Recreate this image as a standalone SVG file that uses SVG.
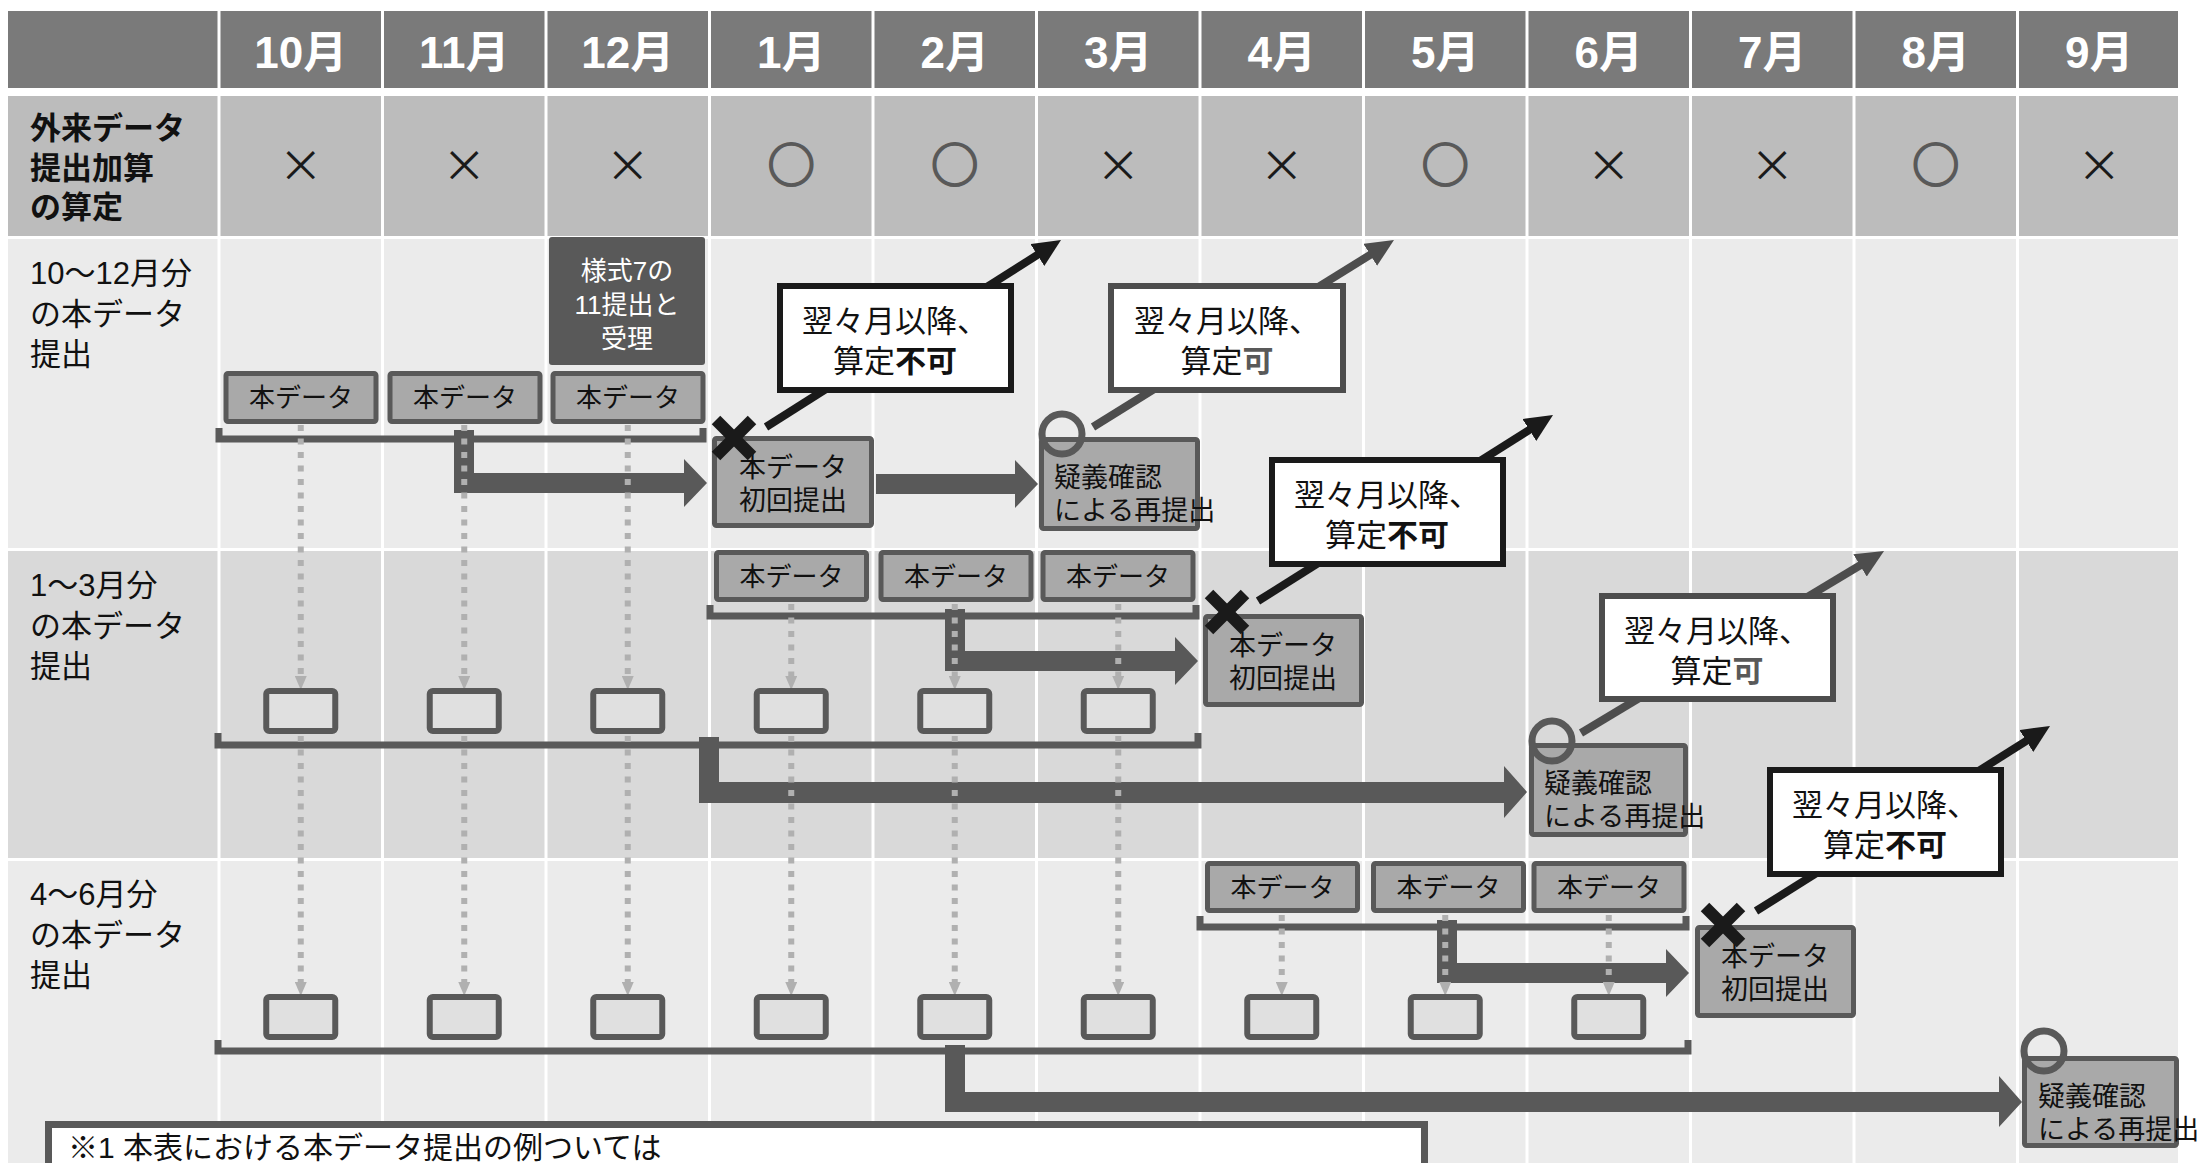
<svg xmlns="http://www.w3.org/2000/svg" width="2197" height="1163" viewBox="0 0 2197 1163">
<defs>
<style>
text{font-family:'Liberation Sans','Noto Sans CJK JP',sans-serif}
.hdr{fill:#7a7a7a}
.r2{fill:#bcbcbc}
.ht{font-size:44px;font-weight:bold;fill:#fff;text-anchor:middle}
.lbl{font-size:31px;fill:#111}
.lblb{font-size:31px;fill:#111;font-weight:bold}
.mk{font-size:44px;fill:#1a1a1a;text-anchor:middle;font-family:'Noto Sans CJK JP',sans-serif}
.mo{font-size:47px;fill:#595959;stroke:#595959;stroke-width:2.2;text-anchor:middle;font-family:'Noto Sans CJK JP',sans-serif}
.vl{fill:#fff}
.box{fill:#a9a9a9;stroke:#595959;stroke-width:5}
.sbox{fill:#e0e0e0;stroke:#595959;stroke-width:6}
.bt{font-size:26px;fill:#111;text-anchor:middle}
.wt{font-size:26px;fill:#fff;text-anchor:middle}
.bt2{font-size:27px;fill:#111;text-anchor:middle}
.qt{font-size:27px;fill:#111}
.callF{fill:#fff;stroke:#1a1a1a;stroke-width:6}
.callK{fill:#fff;stroke:#4d4d4d;stroke-width:6}
.ct{font-size:31px;fill:#111;text-anchor:middle}
.dash{stroke:#b0b0b0;stroke-width:6;stroke-dasharray:6 7.5;fill:none}
.brk{stroke:#595959;stroke-width:7;fill:none}
.thick{fill:#595959}
.lnF{stroke:#1a1a1a;stroke-width:8;fill:none}
.lnK{stroke:#4d4d4d;stroke-width:8;fill:none}
.xm{stroke:#1a1a1a;stroke-width:12}
.ok{fill:none;stroke:#595959;stroke-width:7}
</style>
<marker id="ga" viewBox="0 0 14 12" refX="0" refY="6" markerWidth="14" markerHeight="12" markerUnits="userSpaceOnUse" orient="auto"><path d="M0,0 L14,6 L0,12 Z" fill="#b0b0b0"/></marker>
<marker id="fa" viewBox="0 0 28 26" refX="8" refY="13" markerWidth="28" markerHeight="26" markerUnits="userSpaceOnUse" orient="auto"><path d="M0,0 L28,13 L0,26 Z" fill="#1a1a1a"/></marker>
<marker id="ka" viewBox="0 0 28 26" refX="8" refY="13" markerWidth="28" markerHeight="26" markerUnits="userSpaceOnUse" orient="auto"><path d="M0,0 L28,13 L0,26 Z" fill="#4d4d4d"/></marker>
</defs>
<rect width="2197" height="1163" fill="#fff"/>

<g id="table">
<rect class="hdr" x="8" y="11" width="209.5" height="77"/>
<rect class="hdr" x="220.5" y="11" width="160.5" height="77"/>
<rect class="hdr" x="384" y="11" width="160.5" height="77"/>
<rect class="hdr" x="547.5" y="11" width="160.5" height="77"/>
<rect class="hdr" x="711" y="11" width="160.5" height="77"/>
<rect class="hdr" x="874.5" y="11" width="160.5" height="77"/>
<rect class="hdr" x="1038" y="11" width="160.5" height="77"/>
<rect class="hdr" x="1201.5" y="11" width="160.5" height="77"/>
<rect class="hdr" x="1365" y="11" width="160.5" height="77"/>
<rect class="hdr" x="1528.5" y="11" width="160.5" height="77"/>
<rect class="hdr" x="1692" y="11" width="160.5" height="77"/>
<rect class="hdr" x="1855.5" y="11" width="160.5" height="77"/>
<rect class="hdr" x="2019" y="11" width="159" height="77"/>
<text class="ht" x="300.75" y="68">10月</text>
<text class="ht" x="464.25" y="68">11月</text>
<text class="ht" x="627.75" y="68">12月</text>
<text class="ht" x="791.25" y="68">1月</text>
<text class="ht" x="954.75" y="68">2月</text>
<text class="ht" x="1118.25" y="68">3月</text>
<text class="ht" x="1281.75" y="68">4月</text>
<text class="ht" x="1445.25" y="68">5月</text>
<text class="ht" x="1608.75" y="68">6月</text>
<text class="ht" x="1772.25" y="68">7月</text>
<text class="ht" x="1935.75" y="68">8月</text>
<text class="ht" x="2099.25" y="68">9月</text>

<rect class="r2" x="8" y="96" width="209.5" height="140"/>
<rect class="r2" x="220.5" y="96" width="160.5" height="140"/>
<rect class="r2" x="384" y="96" width="160.5" height="140"/>
<rect class="r2" x="547.5" y="96" width="160.5" height="140"/>
<rect class="r2" x="711" y="96" width="160.5" height="140"/>
<rect class="r2" x="874.5" y="96" width="160.5" height="140"/>
<rect class="r2" x="1038" y="96" width="160.5" height="140"/>
<rect class="r2" x="1201.5" y="96" width="160.5" height="140"/>
<rect class="r2" x="1365" y="96" width="160.5" height="140"/>
<rect class="r2" x="1528.5" y="96" width="160.5" height="140"/>
<rect class="r2" x="1692" y="96" width="160.5" height="140"/>
<rect class="r2" x="1855.5" y="96" width="160.5" height="140"/>
<rect class="r2" x="2019" y="96" width="159" height="140"/>
<text class="lblb"><tspan x="30" y="139">外来データ</tspan><tspan x="30" y="179">提出加算</tspan><tspan x="30" y="218">の算定</tspan></text>
<text class="mk" x="300.75" y="182">×</text>
<text class="mk" x="464.25" y="182">×</text>
<text class="mk" x="627.75" y="182">×</text>
<text class="mo" x="791.25" y="182">○</text>
<text class="mo" x="954.75" y="182">○</text>
<text class="mk" x="1118.25" y="182">×</text>
<text class="mk" x="1281.75" y="182">×</text>
<text class="mo" x="1445.25" y="182">○</text>
<text class="mk" x="1608.75" y="182">×</text>
<text class="mk" x="1772.25" y="182">×</text>
<text class="mo" x="1935.75" y="182">○</text>
<text class="mk" x="2099.25" y="182">×</text>

<rect x="8" y="239" width="2170" height="309" fill="#ebebeb"/>
<rect x="8" y="551" width="2170" height="307" fill="#d9d9d9"/>
<rect x="8" y="861" width="2170" height="302" fill="#ebebeb"/>
<rect class="vl" x="217.5" y="239" width="3" height="924"/>
<rect class="vl" x="381" y="239" width="3" height="924"/>
<rect class="vl" x="544.5" y="239" width="3" height="924"/>
<rect class="vl" x="708" y="239" width="3" height="924"/>
<rect class="vl" x="871.5" y="239" width="3" height="924"/>
<rect class="vl" x="1035" y="239" width="3" height="924"/>
<rect class="vl" x="1198.5" y="239" width="3" height="924"/>
<rect class="vl" x="1362" y="239" width="3" height="924"/>
<rect class="vl" x="1525.5" y="239" width="3" height="924"/>
<rect class="vl" x="1689" y="239" width="3" height="924"/>
<rect class="vl" x="1852.5" y="239" width="3" height="924"/>
<rect class="vl" x="2016" y="239" width="3" height="924"/>
<text class="lbl"><tspan x="30" y="284">10～12月分</tspan><tspan x="30" y="325">の本データ</tspan><tspan x="30" y="365">提出</tspan></text>
<text class="lbl"><tspan x="30" y="596">1～3月分</tspan><tspan x="30" y="637">の本データ</tspan><tspan x="30" y="677">提出</tspan></text>
<text class="lbl"><tspan x="30" y="905">4～6月分</tspan><tspan x="30" y="946">の本データ</tspan><tspan x="30" y="986">提出</tspan></text>
</g>

<g id="connectors">
<path class="brk" d="M219,428 V439 H703 V428"/>
<path class="brk" d="M710,605 V616 H1196 V605"/>
<path class="brk" d="M218,733 V745 H1198 V733"/>
<path class="brk" d="M1200,916 V927 H1686 V916"/>
<path class="brk" d="M218,1040 V1051 H1688 V1040"/>
<path class="thick" d="M454,430 H474 V473 H684 V459 L707,483 L684,507 V493 H454 Z"/>
<path class="thick" d="M876,474 H1015 V460 L1038,484 L1015,508 V494 H876 Z"/>
<path class="thick" d="M945,609 H965 V651 H1175 V637 L1198,661 L1175,685 V671 H945 Z"/>
<path class="thick" d="M699,737 H719 V782 H1504 V766 L1527,792 L1504,818 V803 H699 Z"/>
<path class="thick" d="M1437,920 H1457 V963 H1666 V949 L1689,973 L1666,997 V983 H1437 Z"/>
<path class="thick" d="M945,1045 H965 V1092 H1999 V1076 L2022,1102 L1999,1127 V1112 H945 Z"/>
<line class="dash" x1="300.75" y1="425" x2="300.75" y2="676" marker-end="url(#ga)"/>
<line class="dash" x1="464.25" y1="425" x2="464.25" y2="676" marker-end="url(#ga)"/>
<line class="dash" x1="627.75" y1="425" x2="627.75" y2="676" marker-end="url(#ga)"/>
<line class="dash" x1="791.25" y1="604" x2="791.25" y2="676" marker-end="url(#ga)"/>
<line class="dash" x1="954.75" y1="604" x2="954.75" y2="676" marker-end="url(#ga)"/>
<line class="dash" x1="1118.25" y1="604" x2="1118.25" y2="676" marker-end="url(#ga)"/>
<line class="dash" x1="300.75" y1="736" x2="300.75" y2="982" marker-end="url(#ga)"/>
<line class="dash" x1="464.25" y1="736" x2="464.25" y2="982" marker-end="url(#ga)"/>
<line class="dash" x1="627.75" y1="736" x2="627.75" y2="982" marker-end="url(#ga)"/>
<line class="dash" x1="791.25" y1="736" x2="791.25" y2="982" marker-end="url(#ga)"/>
<line class="dash" x1="954.75" y1="736" x2="954.75" y2="982" marker-end="url(#ga)"/>
<line class="dash" x1="1118.25" y1="736" x2="1118.25" y2="982" marker-end="url(#ga)"/>
<line class="dash" x1="1281.75" y1="915" x2="1281.75" y2="982" marker-end="url(#ga)"/>
<line class="dash" x1="1445.25" y1="915" x2="1445.25" y2="982" marker-end="url(#ga)"/>
<line class="dash" x1="1608.75" y1="915" x2="1608.75" y2="982" marker-end="url(#ga)"/>
<line class="lnF" x1="766" y1="427" x2="1044.1" y2="250.7" marker-end="url(#fa)"/>
<line class="lnK" x1="1093" y1="427" x2="1377" y2="250.6" marker-end="url(#ka)"/>
<line class="lnF" x1="1258" y1="601" x2="1536.1" y2="425.7" marker-end="url(#fa)"/>
<line class="lnK" x1="1581" y1="733" x2="1866.9" y2="561.3" marker-end="url(#ka)"/>
<line class="lnF" x1="1756" y1="911" x2="2033.1" y2="736.7" marker-end="url(#fa)"/>
</g>

<g id="youshiki7">
<rect x="549" y="237" width="156" height="128" rx="3" fill="#595959"/>
<text class="wt"><tspan x="627" y="280">様式7の</tspan><tspan x="627" y="314">11提出と</tspan><tspan x="627" y="348">受理</tspan></text>
</g>

<g id="data-r3-10"><rect class="box" x="226" y="373.5" width="150" height="48" rx="2"/><text class="bt" x="301" y="407">本データ</text></g>
<g id="data-r3-11"><rect class="box" x="390" y="373.5" width="150" height="48" rx="2"/><text class="bt" x="465" y="407">本データ</text></g>
<g id="data-r3-12"><rect class="box" x="553" y="373.5" width="150" height="48" rx="2"/><text class="bt" x="628" y="407">本データ</text></g>
<g id="data-r4-1"><rect class="box" x="716.5" y="552.5" width="150" height="47" rx="2"/><text class="bt" x="791.5" y="586">本データ</text></g>
<g id="data-r4-2"><rect class="box" x="881" y="552.5" width="150" height="47" rx="2"/><text class="bt" x="956" y="586">本データ</text></g>
<g id="data-r4-3"><rect class="box" x="1043" y="552.5" width="150" height="47" rx="2"/><text class="bt" x="1118" y="586">本データ</text></g>
<g id="data-r5-4"><rect class="box" x="1207.5" y="863.5" width="150" height="47" rx="2"/><text class="bt" x="1282.5" y="897">本データ</text></g>
<g id="data-r5-5"><rect class="box" x="1373.5" y="863.5" width="150" height="47" rx="2"/><text class="bt" x="1448.5" y="897">本データ</text></g>
<g id="data-r5-6"><rect class="box" x="1534" y="863.5" width="150" height="47" rx="2"/><text class="bt" x="1609" y="897">本データ</text></g>

<g id="small-r4">
<rect class="sbox" x="266.25" y="691" width="69" height="40" rx="3"/>
<rect class="sbox" x="429.75" y="691" width="69" height="40" rx="3"/>
<rect class="sbox" x="593.25" y="691" width="69" height="40" rx="3"/>
<rect class="sbox" x="756.75" y="691" width="69" height="40" rx="3"/>
<rect class="sbox" x="920.25" y="691" width="69" height="40" rx="3"/>
<rect class="sbox" x="1083.75" y="691" width="69" height="40" rx="3"/>
</g>
<g id="small-r5">
<rect class="sbox" x="266.25" y="997" width="69" height="40" rx="3"/>
<rect class="sbox" x="429.75" y="997" width="69" height="40" rx="3"/>
<rect class="sbox" x="593.25" y="997" width="69" height="40" rx="3"/>
<rect class="sbox" x="756.75" y="997" width="69" height="40" rx="3"/>
<rect class="sbox" x="920.25" y="997" width="69" height="40" rx="3"/>
<rect class="sbox" x="1083.75" y="997" width="69" height="40" rx="3"/>
<rect class="sbox" x="1247.25" y="997" width="69" height="40" rx="3"/>
<rect class="sbox" x="1410.75" y="997" width="69" height="40" rx="3"/>
<rect class="sbox" x="1574.25" y="997" width="69" height="40" rx="3"/>
</g>

<g id="first-1">
<rect class="box" x="714.5" y="438.5" width="157" height="87" rx="2"/>
<text class="bt2"><tspan x="793" y="477">本データ</tspan><tspan x="793" y="510">初回提出</tspan></text>
<line class="xm" x1="716" y1="420" x2="752" y2="456"/><line class="xm" x1="752" y1="420" x2="716" y2="456"/>
</g>
<g id="resub-3">
<rect class="box" x="1041.5" y="439.5" width="156" height="89" rx="2"/>
<text class="qt"><tspan x="1054" y="487">疑義確認</tspan><tspan x="1054" y="520">による再提出</tspan></text>
<circle class="ok" cx="1062" cy="434" r="20"/>
</g>
<g id="first-4">
<rect class="box" x="1205.5" y="616.5" width="156" height="88" rx="2"/>
<text class="bt2"><tspan x="1283" y="655">本データ</tspan><tspan x="1283" y="688">初回提出</tspan></text>
<line class="xm" x1="1209" y1="594" x2="1245" y2="630"/><line class="xm" x1="1245" y1="594" x2="1209" y2="630"/>
</g>
<g id="resub-6">
<rect class="box" x="1531.5" y="745.5" width="154" height="89" rx="2"/>
<text class="qt"><tspan x="1544" y="793">疑義確認</tspan><tspan x="1544" y="826">による再提出</tspan></text>
<circle class="ok" cx="1552" cy="741" r="20"/>
</g>
<g id="first-7">
<rect class="box" x="1697.5" y="927.5" width="156" height="88" rx="2"/>
<text class="bt2"><tspan x="1775" y="966">本データ</tspan><tspan x="1775" y="999">初回提出</tspan></text>
<line class="xm" x1="1705" y1="907" x2="1741" y2="943"/><line class="xm" x1="1741" y1="907" x2="1705" y2="943"/>
</g>
<g id="resub-9">
<rect class="box" x="2024.5" y="1058.5" width="152" height="87" rx="2"/>
<text class="qt"><tspan x="2038" y="1106">疑義確認</tspan><tspan x="2038" y="1139">による再提出</tspan></text>
<circle class="ok" cx="2044" cy="1051" r="20"/>
</g>

<g id="callout-f1">
<rect class="callF" x="780" y="286" width="231" height="104"/>
<text class="ct"><tspan x="895" y="332">翌々月以降、</tspan><tspan x="895" y="372">算定<tspan font-weight="bold">不可</tspan></tspan></text>
</g>
<g id="callout-k1">
<rect class="callK" x="1111" y="286" width="232" height="104"/>
<text class="ct"><tspan x="1227" y="332">翌々月以降、</tspan><tspan x="1227" y="372">算定<tspan font-weight="bold" fill="#595959">可</tspan></tspan></text>
</g>
<g id="callout-f2">
<rect class="callF" x="1272" y="460" width="231" height="104"/>
<text class="ct"><tspan x="1387" y="506">翌々月以降、</tspan><tspan x="1387" y="546">算定<tspan font-weight="bold">不可</tspan></tspan></text>
</g>
<g id="callout-k2">
<rect class="callK" x="1602" y="596" width="231" height="103"/>
<text class="ct"><tspan x="1717" y="642">翌々月以降、</tspan><tspan x="1717" y="682">算定<tspan font-weight="bold" fill="#595959">可</tspan></tspan></text>
</g>
<g id="callout-f3">
<rect class="callF" x="1770" y="770" width="231" height="104"/>
<text class="ct"><tspan x="1885" y="816">翌々月以降、</tspan><tspan x="1885" y="856">算定<tspan font-weight="bold">不可</tspan></tspan></text>
</g>

<g id="note">
<rect x="48.5" y="1124.5" width="1376" height="80" fill="#fff" stroke="#595959" stroke-width="7"/>
<text x="68" y="1158" style="font-size:30px;fill:#111">※1 本表における本データ提出の例ついては</text>
</g>
</svg>
